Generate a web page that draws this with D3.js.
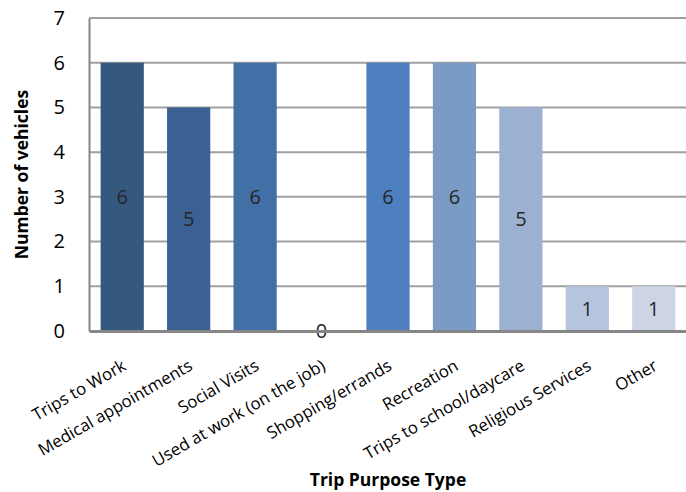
<!DOCTYPE html>
<html>
<head>
<meta charset="utf-8">
<script src="https://cdn.jsdelivr.net/npm/d3@7"></script>
<style>
  html, body { margin: 0; padding: 0; background: #fff; }
  svg { display: block; }
</style>
</head>
<body>
<svg id="chart" width="686" height="492"></svg>
<script>
// Trip purposes and number of vehicles used for each
const categories = [
  "Trips to Work", "Medical appointments", "Social Visits",
  "Used at work (on the job)", "Shopping/errands", "Recreation",
  "Trips to school/daycare", "Religious Services", "Other"
];
const vehicles = [6, 5, 6, 0, 6, 6, 5, 1, 1];
const barColors = [
  "#35587f", "#3a6192", "#426fa5", "#4a78b4", "#4e80bf",
  "#7b9bc7", "#9cb0d2", "#b7c4de", "#cdd4e6"
];
const yTicks = [0, 1, 2, 3, 4, 5, 6, 7];

const svg = d3.select("#chart");
const margin = { top: 18, right: 0, bottom: 161, left: 89 };
const W = 686, H = 492;
const font = "'Open Sans', 'Liberation Sans', sans-serif";

const x = d3.scaleBand()
  .domain(categories)
  .range([margin.left, margin.left + 598])
  .paddingInner(0.35)
  .paddingOuter(0.175);

const y = d3.scaleLinear()
  .domain([0, 7])
  .range([H - margin.bottom, margin.top]);

// horizontal gridlines
svg.append("g")
  .selectAll("line")
  .data(yTicks.slice(1))
  .join("line")
  .attr("x1", margin.left)
  .attr("x2", W)
  .attr("y1", d => y(d))
  .attr("y2", d => y(d))
  .attr("stroke", "#a0a0a0")
  .attr("stroke-width", 2);

// bars
svg.append("g")
  .selectAll("rect")
  .data(vehicles)
  .join("rect")
  .attr("x", (d, i) => x(categories[i]))
  .attr("width", x.bandwidth())
  .attr("y", d => y(d))
  .attr("height", d => y(0) - y(d))
  .attr("fill", (d, i) => barColors[i]);

// value labels, centred within each bar
svg.append("g")
  .selectAll("text")
  .data(vehicles)
  .join("text")
  .attr("x", (d, i) => x(categories[i]) + x.bandwidth() / 2)
  .attr("y", d => y(d / 2))
  .attr("dy", "0.36em")
  .attr("text-anchor", "middle")
  .attr("font-family", font)
  .attr("font-size", 20)
  .attr("fill", "#262626")
  .text(d => d);

// y axis
const yAxis = d3.axisLeft(y).tickValues(yTicks).tickFormat(d3.format("d"))
  .tickSize(0).tickPadding(24);
const yg = svg.append("g")
  .attr("transform", `translate(${margin.left},0)`)
  .call(yAxis);
yg.select(".domain").attr("stroke", "#868686").attr("stroke-width", 2);
yg.selectAll("text")
  .attr("font-family", font)
  .attr("font-size", 20)
  .attr("fill", "#000");

// x axis
const xAxis = d3.axisBottom(x).tickSize(0).tickPadding(0);
const xg = svg.append("g")
  .attr("transform", `translate(0,${y(0)})`)
  .call(xAxis);
xg.select(".domain").attr("stroke", "#868686").attr("stroke-width", 3);
xg.selectAll(".tick text")
  .attr("font-family", font)
  .attr("font-size", 16.8)
  .attr("fill", "#000")
  .attr("text-anchor", "end")
  .attr("dy", null)
  .attr("y", 0)
  .attr("transform", "translate(5,38) rotate(-30)");

// axis titles
svg.append("text")
  .attr("transform", `translate(28,${(y(0) + y(7)) / 2}) rotate(-90)`)
  .attr("text-anchor", "middle")
  .attr("font-family", font)
  .attr("font-weight", "bold")
  .attr("font-size", 17.5)
  .attr("fill", "#000")
  .text("Number of vehicles");

svg.append("text")
  .attr("x", 388)
  .attr("y", 486)
  .attr("text-anchor", "middle")
  .attr("font-family", font)
  .attr("font-weight", "bold")
  .attr("font-size", 17.5)
  .attr("fill", "#000")
  .text("Trip Purpose Type");
</script>
</body>
</html>
